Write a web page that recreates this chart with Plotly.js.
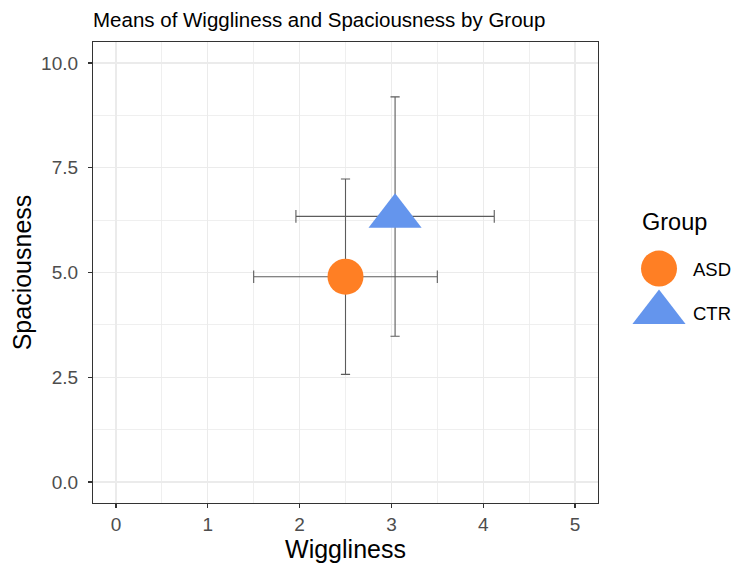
<!DOCTYPE html>
<html>
<head>
<meta charset="utf-8">
<script src="https://cdn.plot.ly/plotly-3.0.1.min.js"></script>
<style>
  html, body { margin: 0; padding: 0; background: #ffffff; }
  #chart { width: 738px; height: 563px; }
</style>
</head>
<body>
<div id="chart"></div>
<script>
// ---- data ----
var groups      = ['ASD', 'CTR'];
var wiggleMean  = [2.50, 3.04];
var wiggleLow   = [1.50, 1.96];
var wiggleHigh  = [3.50, 4.12];
var spacMean    = [4.90, 6.34];
var spacLow     = [2.57, 3.48];
var spacHigh    = [7.23, 9.19];
var xTickVals   = [0, 1, 2, 3, 4, 5];
var xTickText   = ['0', '1', '2', '3', '4', '5'];
var yTickVals   = [0, 2.5, 5, 7.5, 10];
var yTickText   = ['0.0', '2.5', '5.0', '7.5', '10.0'];
var legendTitle = 'Group';

var colors  = ['#FF7F24', '#6495ED'];
var symbols = ['circle', 'triangle-up'];
var sizes   = [36, 46];

var FONT = 'Liberation Sans, Arial, Helvetica, sans-serif';
var errColor = '#5c5c5c';

var traces = groups.map(function (g, i) {
  return {
    type: 'scatter',
    mode: 'markers',
    name: g,
    legendgroup: g,
    x: [wiggleMean[i]],
    y: [spacMean[i]],
    marker: { color: colors[i], symbol: symbols[i], size: sizes[i], line: { width: 0 } },
    error_x: {
      type: 'data', symmetric: false,
      array: [wiggleHigh[i] - wiggleMean[i]],
      arrayminus: [wiggleMean[i] - wiggleLow[i]],
      color: errColor, thickness: 1.1, width: 6.3
    },
    error_y: {
      type: 'data', symmetric: false,
      array: [spacHigh[i] - spacMean[i]],
      arrayminus: [spacMean[i] - spacLow[i]],
      color: errColor, thickness: 1.1, width: 4.6
    },
    hoverinfo: 'x+y+name'
  };
});

var gridMajor = '#EBEBEB';
var layout = {
  width: 738, height: 563,
  margin: { l: 93, r: 140, t: 42, b: 60, pad: 0 },
  paper_bgcolor: '#ffffff',
  plot_bgcolor: '#ffffff',
  font: { family: FONT, color: '#000000' },
  title: {
    text: 'Means of Wiggliness and Spaciousness by Group',
    font: { family: FONT, size: 20.5, color: '#000000' },
    x: 93 / 738, xref: 'container', xanchor: 'left',
    y: 1 - 20 / 563, yref: 'container', yanchor: 'middle'
  },
  xaxis: {
    range: [-0.25, 5.25],
    tickmode: 'array', tickvals: xTickVals, ticktext: xTickText,
    ticks: 'outside', ticklen: 4, tickwidth: 1.1, tickcolor: '#333333',
    tickfont: { family: FONT, size: 19, color: '#4D4D4D' },
    showgrid: true, gridcolor: gridMajor, gridwidth: 1.4,
    minor: { tickvals: [0.5, 1.5, 2.5, 3.5, 4.5], showgrid: true, gridcolor: gridMajor, gridwidth: 0.8, ticks: '' },
    zeroline: false,
    showline: true, mirror: true, linecolor: '#333333', linewidth: 1.1,
    title: { text: 'Wiggliness', font: { family: FONT, size: 25, color: '#000000' }, standoff: 6 },
    automargin: false
  },
  yaxis: {
    range: [-0.5, 10.5],
    tickmode: 'array', tickvals: yTickVals, ticktext: yTickText,
    ticks: 'outside', ticklen: 4, tickwidth: 1.1, tickcolor: '#333333',
    ticklabelstandoff: 6,
    tickfont: { family: FONT, size: 19, color: '#4D4D4D' },
    showgrid: true, gridcolor: gridMajor, gridwidth: 1.4,
    minor: { tickvals: [1.25, 3.75, 6.25, 8.75], showgrid: true, gridcolor: gridMajor, gridwidth: 0.8, ticks: '' },
    zeroline: false,
    showline: true, mirror: true, linecolor: '#333333', linewidth: 1.1,
    title: { text: 'Spaciousness', font: { family: FONT, size: 25, color: '#000000' }, standoff: 2 },
    automargin: false
  },
  showlegend: true,
  legend: {
    xref: 'container', yref: 'container',
    x: 625 / 738, xanchor: 'left',
    y: 1 - 250 / 563, yanchor: 'top',
    bgcolor: 'rgba(0,0,0,0)',
    borderwidth: 0,
    font: { family: FONT, size: 18.5, color: '#000000' },
    tracegroupgap: 17,
    traceorder: 'grouped',
    itemsizing: 'trace',
    itemwidth: 58
  },
  annotations: [{
    text: legendTitle,
    xref: 'paper', yref: 'paper',
    x: (640 - 93) / 505, y: (503 - 222) / 461,
    xanchor: 'left', yanchor: 'middle',
    showarrow: false,
    font: { family: FONT, size: 23.5, color: '#000000' }
  }]
};

Plotly.newPlot('chart', traces, layout, { displayModeBar: false, staticPlot: true }).then(function (gd) {
  // enlarge legend symbols to match the plotted marker sizes (legend caps them at 16px)
  var pts = gd.querySelectorAll('.legend .legendpoints path.scatterpts');
  pts.forEach(function (p, idx) {
    var k = sizes[idx] / 16;
    var t = p.getAttribute('transform') || '';
    p.setAttribute('transform', t + ' scale(' + k + ')');
  });
});
</script>
</body>
</html>
